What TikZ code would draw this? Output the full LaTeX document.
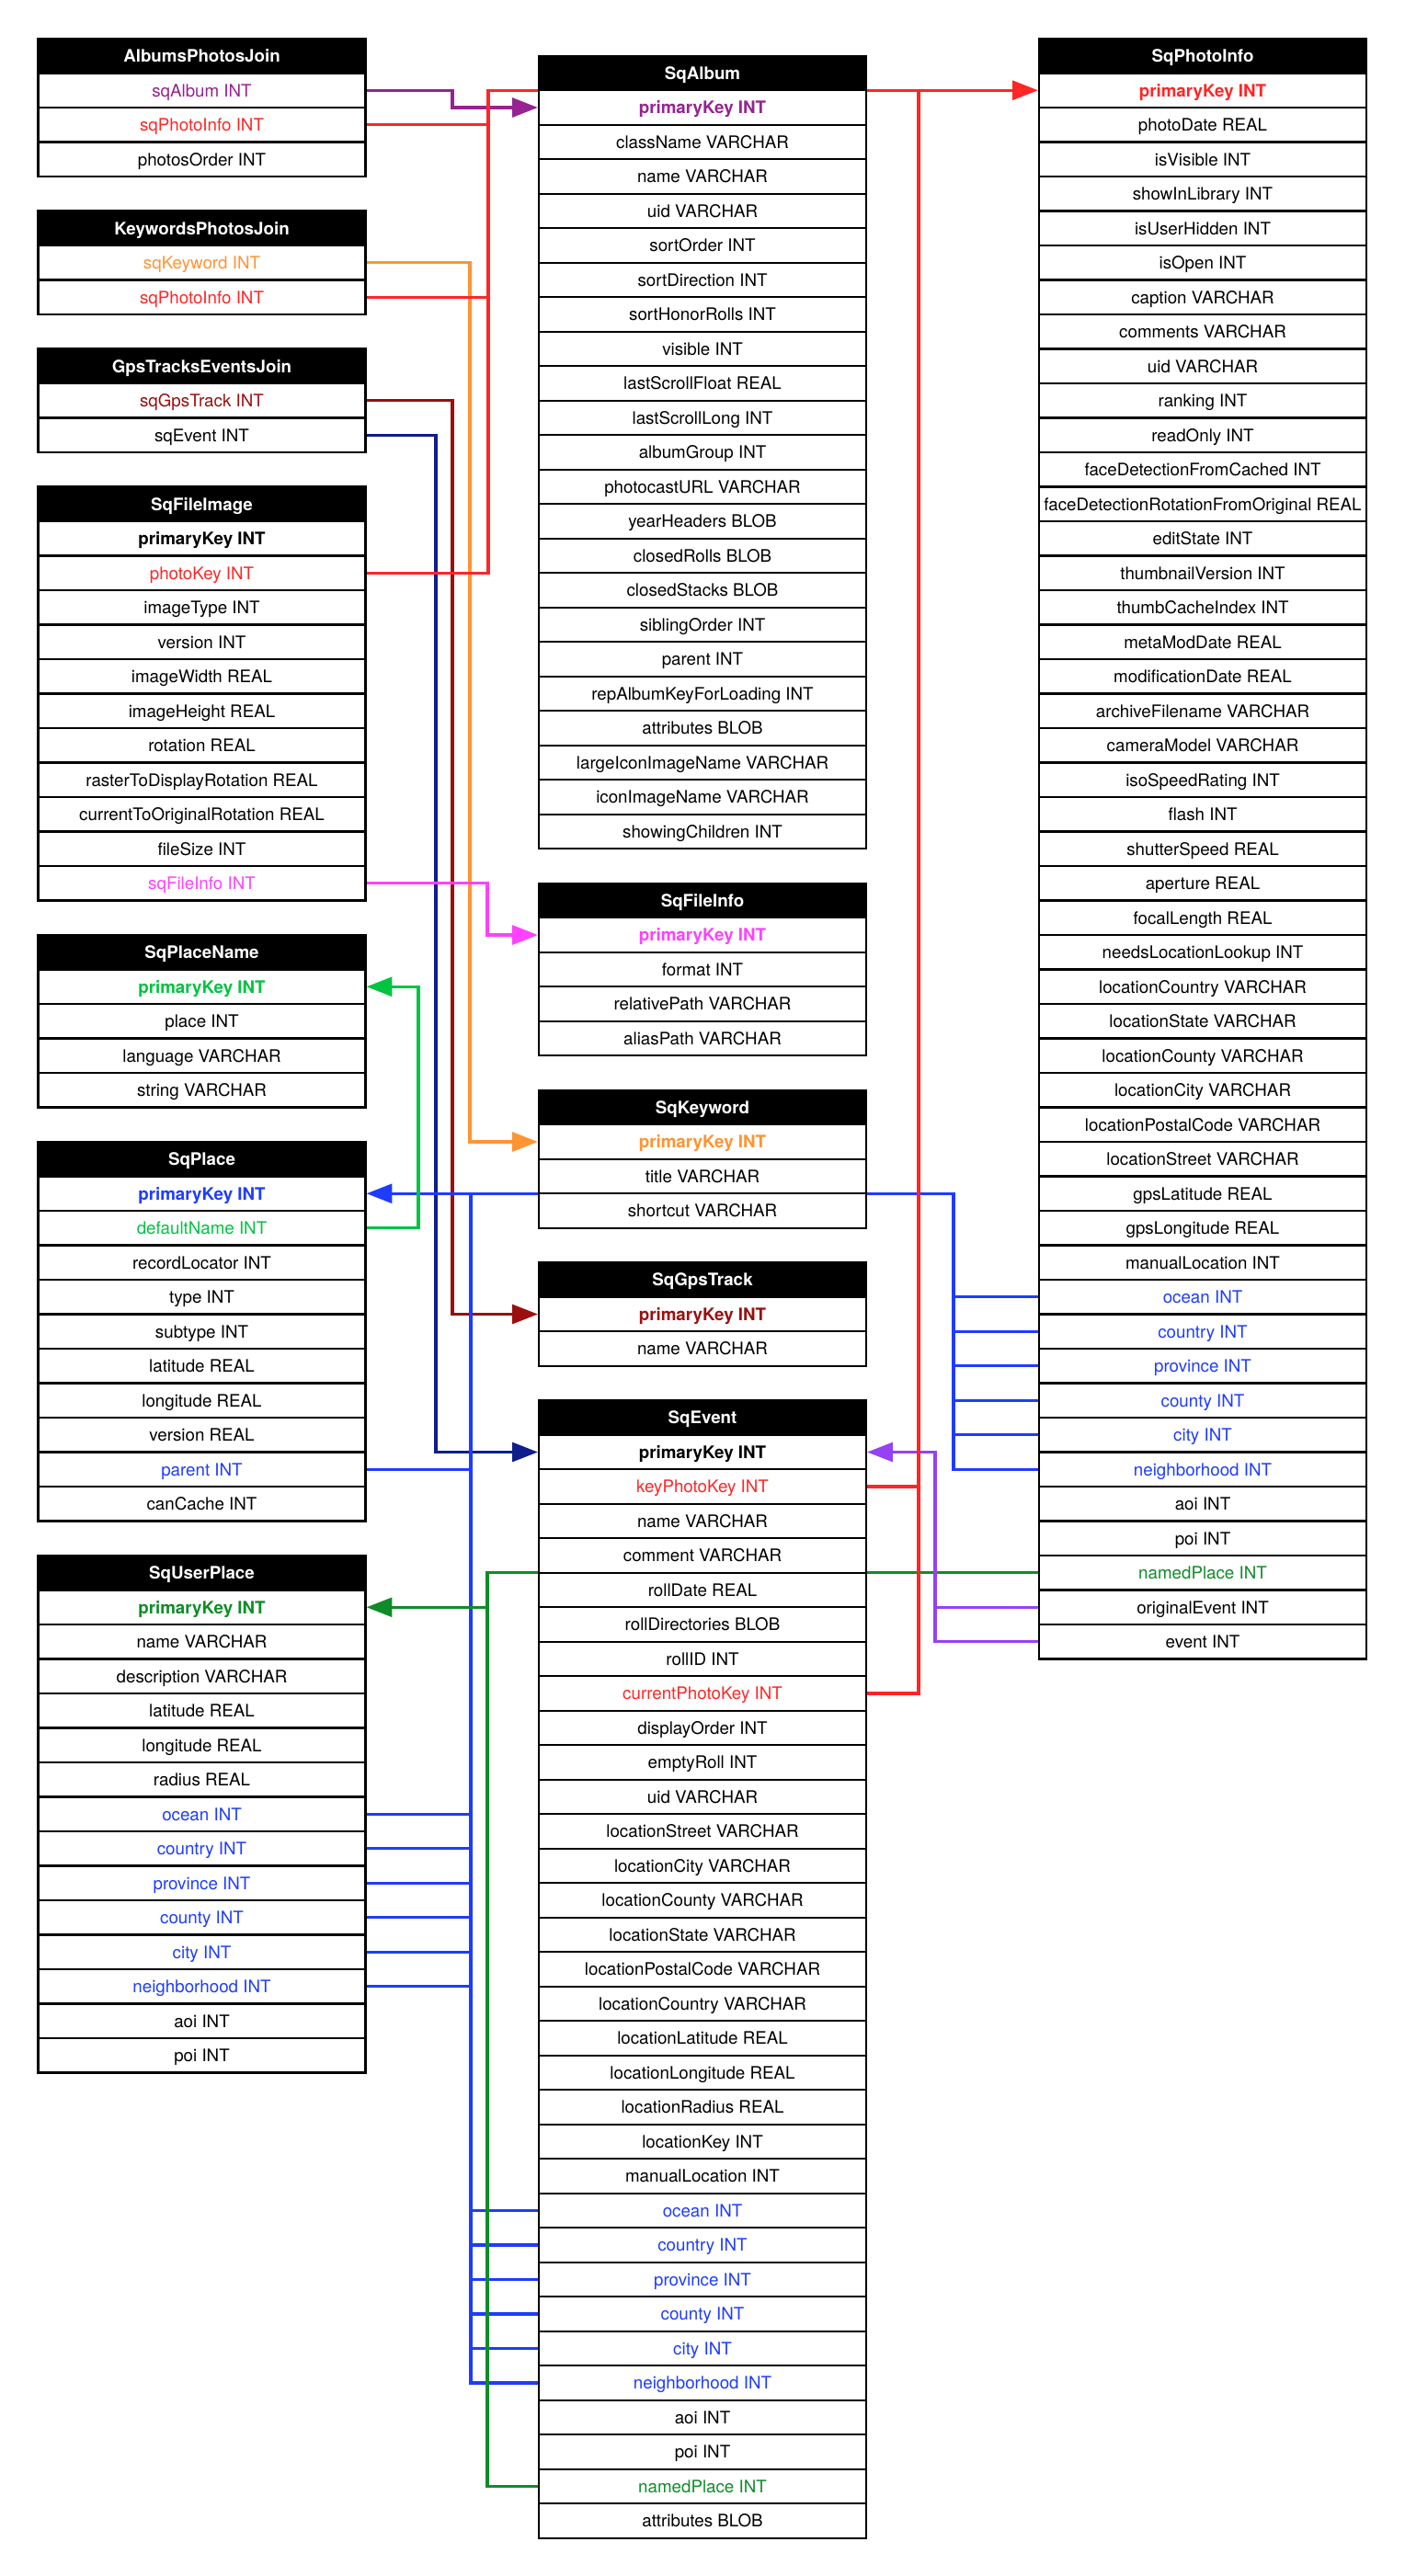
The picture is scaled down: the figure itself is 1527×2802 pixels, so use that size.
\documentclass[tikz,border=0pt]{standalone}
\usepackage{fontspec}
\setmainfont{TeX Gyre Heros}
\usetikzlibrary{arrows.meta}
\pgfdeclarelayer{bg}
\pgfsetlayers{bg,main}
\definecolor{cK}{RGB}{0,0,0}
\definecolor{cPu}{RGB}{150,35,145}
\definecolor{cRd}{RGB}{255,38,38}
\definecolor{cOr}{RGB}{255,148,50}
\definecolor{cMr}{RGB}{155,15,15}
\definecolor{cNv}{RGB}{15,30,140}
\definecolor{cMg}{RGB}{255,65,255}
\definecolor{cGb}{RGB}{0,195,65}
\definecolor{cBl}{RGB}{30,60,255}
\definecolor{cGd}{RGB}{15,140,40}
\definecolor{cVi}{RGB}{150,65,245}
\newcommand\fwn{}
\newcommand\fwb{\bfseries}
\tikzset{
  row/.style={draw=black, line width=1pt, fill=white, minimum width=170.9pt,
    minimum height=18pt, inner sep=0pt, text height=6.5pt, text depth=0pt},
  hdr/.style={row, fill=black, text=white, font=\fontsize{9}{10}\selectfont\bfseries},
  conn/.style={line width=1.6pt},
  arr/.style={-{Triangle[length=13.4pt,width=10pt]}}
}
\newcommand\dbtab[5]{%
  \node[hdr] (#1-h) at (#2,#3+18.75) {#4};
  \foreach \rc/\rw/\rt [count=\ii] in {#5} {
    \node[row,text=\rc,font=\fontsize{9}{10}\selectfont\csname fw\rw\endcsname] (#1-\ii) at (#2,#3+18.75+37.5*\ii) {\rt};
  }%
}
\begin{document}
\begin{tikzpicture}[x=0.48pt,y=-0.48pt]
\useasboundingbox (0,0) rectangle (1527,2802);
% left column
\dbtab{apj}{219.5}{42}{AlbumsPhotosJoin}{cPu/n/sqAlbum INT, cRd/n/sqPhotoInfo INT, cK/n/photosOrder INT}
\dbtab{kpj}{219.5}{229.5}{KeywordsPhotosJoin}{cOr/n/sqKeyword INT, cRd/n/sqPhotoInfo INT}
\dbtab{gtj}{219.5}{379.5}{GpsTracksEventsJoin}{cMr/n/sqGpsTrack INT, cK/n/sqEvent INT}
\dbtab{sfi}{219.5}{529.5}{SqFileImage}{cK/b/primaryKey INT, cRd/n/photoKey INT, cK/n/imageType INT, cK/n/version INT, cK/n/imageWidth REAL, cK/n/imageHeight REAL, cK/n/rotation REAL, cK/n/rasterToDisplayRotation REAL, cK/n/currentToOriginalRotation REAL, cK/n/fileSize INT, cMg/n/sqFileInfo INT}
\dbtab{spn}{219.5}{1017}{SqPlaceName}{cGb/b/primaryKey INT, cK/n/place INT, cK/n/language VARCHAR, cK/n/string VARCHAR}
\dbtab{spl}{219.5}{1242}{SqPlace}{cBl/b/primaryKey INT, cGb/n/defaultName INT, cK/n/recordLocator INT, cK/n/type INT, cK/n/subtype INT, cK/n/latitude REAL, cK/n/longitude REAL, cK/n/version REAL, cBl/n/parent INT, cK/n/canCache INT}
\dbtab{sup}{219.5}{1692}{SqUserPlace}{cGd/b/primaryKey INT, cK/n/name VARCHAR, cK/n/description VARCHAR, cK/n/latitude REAL, cK/n/longitude REAL, cK/n/radius REAL, cBl/n/ocean INT, cBl/n/country INT, cBl/n/province INT, cBl/n/county INT, cBl/n/city INT, cBl/n/neighborhood INT, cK/n/aoi INT, cK/n/poi INT}
% middle column
\dbtab{alb}{764}{60.75}{SqAlbum}{cPu/b/primaryKey INT, cK/n/className VARCHAR, cK/n/name VARCHAR, cK/n/uid VARCHAR, cK/n/sortOrder INT, cK/n/sortDirection INT, cK/n/sortHonorRolls INT, cK/n/visible INT, cK/n/lastScrollFloat REAL, cK/n/lastScrollLong INT, cK/n/albumGroup INT, cK/n/photocastURL VARCHAR, cK/n/yearHeaders BLOB, cK/n/closedRolls BLOB, cK/n/closedStacks BLOB, cK/n/siblingOrder INT, cK/n/parent INT, cK/n/repAlbumKeyForLoading INT, cK/n/attributes BLOB, cK/n/largeIconImageName VARCHAR, cK/n/iconImageName VARCHAR, cK/n/showingChildren INT}
\dbtab{sfo}{764}{960.75}{SqFileInfo}{cMg/b/primaryKey INT, cK/n/format INT, cK/n/relativePath VARCHAR, cK/n/aliasPath VARCHAR}
\dbtab{skw}{764}{1185.75}{SqKeyword}{cOr/b/primaryKey INT, cK/n/title VARCHAR, cK/n/shortcut VARCHAR}
\dbtab{sgt}{764}{1373.25}{SqGpsTrack}{cMr/b/primaryKey INT, cK/n/name VARCHAR}
\dbtab{sev}{764}{1523.25}{SqEvent}{cK/b/primaryKey INT, cRd/n/keyPhotoKey INT, cK/n/name VARCHAR, cK/n/comment VARCHAR, cK/n/rollDate REAL, cK/n/rollDirectories BLOB, cK/n/rollID INT, cRd/n/currentPhotoKey INT, cK/n/displayOrder INT, cK/n/emptyRoll INT, cK/n/uid VARCHAR, cK/n/locationStreet VARCHAR, cK/n/locationCity VARCHAR, cK/n/locationCounty VARCHAR, cK/n/locationState VARCHAR, cK/n/locationPostalCode VARCHAR, cK/n/locationCountry VARCHAR, cK/n/locationLatitude REAL, cK/n/locationLongitude REAL, cK/n/locationRadius REAL, cK/n/locationKey INT, cK/n/manualLocation INT, cBl/n/ocean INT, cBl/n/country INT, cBl/n/province INT, cBl/n/county INT, cBl/n/city INT, cBl/n/neighborhood INT, cK/n/aoi INT, cK/n/poi INT, cGd/n/namedPlace INT, cK/n/attributes BLOB}
% right column
\dbtab{spi}{1308}{42}{SqPhotoInfo}{cRd/b/primaryKey INT, cK/n/photoDate REAL, cK/n/isVisible INT, cK/n/showInLibrary INT, cK/n/isUserHidden INT, cK/n/isOpen INT, cK/n/caption VARCHAR, cK/n/comments VARCHAR, cK/n/uid VARCHAR, cK/n/ranking INT, cK/n/readOnly INT, cK/n/faceDetectionFromCached INT, cK/n/faceDetectionRotationFromOriginal REAL, cK/n/editState INT, cK/n/thumbnailVersion INT, cK/n/thumbCacheIndex INT, cK/n/metaModDate REAL, cK/n/modificationDate REAL, cK/n/archiveFilename VARCHAR, cK/n/cameraModel VARCHAR, cK/n/isoSpeedRating INT, cK/n/flash INT, cK/n/shutterSpeed REAL, cK/n/aperture REAL, cK/n/focalLength REAL, cK/n/needsLocationLookup INT, cK/n/locationCountry VARCHAR, cK/n/locationState VARCHAR, cK/n/locationCounty VARCHAR, cK/n/locationCity VARCHAR, cK/n/locationPostalCode VARCHAR, cK/n/locationStreet VARCHAR, cK/n/gpsLatitude REAL, cK/n/gpsLongitude REAL, cK/n/manualLocation INT, cBl/n/ocean INT, cBl/n/country INT, cBl/n/province INT, cBl/n/county INT, cBl/n/city INT, cBl/n/neighborhood INT, cK/n/aoi INT, cK/n/poi INT, cGd/n/namedPlace INT, cK/n/originalEvent INT, cK/n/event INT}
\begin{pgfonlayer}{bg}
\fill[white] (0,0) rectangle (1527,2802);
% orange
\draw[conn,cOr,arr] (kpj-1.east) -| (511,0 |- skw-1.west) -- (skw-1.west);
% maroon
\draw[conn,cMr,arr] (gtj-1.east) -| (492,0 |- sgt-1.west) -- (sgt-1.west);
% navy
\draw[conn,cNv,arr] (gtj-2.east) -| (474,0 |- sev-1.west) -- (sev-1.west);
% blue
\draw[conn,cBl,arr] (spi-41.west) -| (1037,0 |- spl-1.east) -- (spl-1.east);
\foreach \kk in {36,...,40} \draw[conn,cBl] (spi-\kk.west) -- (spi-\kk.west -| 1037,0);
\draw[conn,cBl] (sev-28.west) -| (512,0 |- spl-1.east);
\foreach \kk in {23,...,27} \draw[conn,cBl] (sev-\kk.west) -- (sev-\kk.west -| 512,0);
\foreach \kk in {7,...,12} \draw[conn,cBl] (sup-\kk.east) -- (sup-\kk.east -| 512,0);
\draw[conn,cBl] (spl-9.east) -- (spl-9.east -| 512,0);
% bright green
\draw[conn,cGb,arr] (spl-2.east) -| (455,0 |- spn-1.east) -- (spn-1.east);
% purple
\draw[conn,cPu,arr] (apj-1.east) -| (492,0 |- alb-1.west) -- (alb-1.west);
% magenta
\draw[conn,cMg,arr] (sfi-11.east) -| (530,0 |- sfo-1.west) -- (sfo-1.west);
% dark green
\draw[conn,cGd] (spi-44.west) -| (530,0 |- sev-31.west) -- (sev-31.west);
\draw[conn,cGd,arr] (sup-1.east -| 530,0) -- (sup-1.east);
% violet
\draw[conn,cVi,arr] (spi-46.west) -| (1017,0 |- sev-1.east) -- (sev-1.east);
\draw[conn,cVi] (spi-45.west) -- (spi-45.west -| 1017,0);
% red
\draw[conn,cRd,arr] (sfi-2.east) -| (531,0 |- spi-1.west) -- (spi-1.west);
\draw[conn,cRd] (apj-2.east) -- (apj-2.east -| 531,0);
\draw[conn,cRd] (kpj-2.east) -- (kpj-2.east -| 531,0);
\draw[conn,cRd] (sev-8.east) -| (999,0 |- spi-1.west);
\draw[conn,cRd] (sev-2.east) -- (sev-2.east -| 999,0);
\end{pgfonlayer}
\end{tikzpicture}
\end{document}
